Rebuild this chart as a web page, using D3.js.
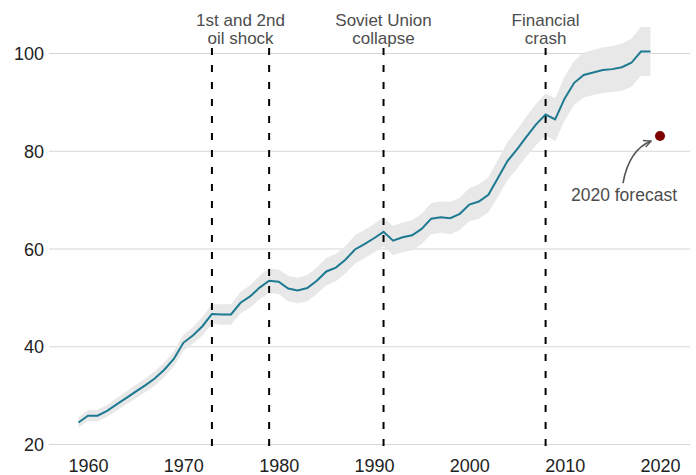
<!DOCTYPE html>
<html>
<head>
<meta charset="utf-8">
<script src="https://cdn.jsdelivr.net/npm/d3@7"></script>
<style>
  body { margin: 0; background: #fff; }
  svg { display: block; font-family: "Liberation Sans", Arial, sans-serif; }
</style>
</head>
<body>
<svg width="696" height="475"></svg>
<script>
// yearly index, 1959 - 2019, with its uncertainty band
var startYear = 1959;
var values = [
  24.4, 25.8, 25.8, 26.8, 28.1, 29.4, 30.7, 32.0, 33.4, 35.2,
  37.4, 40.7, 42.2, 44.1, 46.6, 46.5, 46.5, 48.9, 50.2, 52.0,
  53.4, 53.2, 51.8, 51.4, 51.9, 53.4, 55.3, 56.1, 57.7, 59.8,
  60.9, 62.1, 63.4, 61.6, 62.3, 62.7, 64.0, 66.1, 66.4, 66.2,
  67.1, 69.0, 69.6, 71.0, 74.4, 77.9, 80.3, 82.9, 85.4, 87.4,
  86.4, 90.7, 93.9, 95.5, 96.0, 96.5, 96.7, 97.1, 98.0, 100.3,
  100.3
];
// half width of the grey band, same years
var spread = [
  1.1, 1.1, 1.2, 1.2, 1.3, 1.3, 1.4, 1.4, 1.5, 1.5,
  1.6, 1.6, 1.7, 1.9, 2.0, 2.1, 2.1, 2.2, 2.3, 2.4,
  2.5, 2.5, 2.6, 2.6, 2.7, 2.7, 2.8, 2.8, 2.8, 2.9,
  2.9, 2.9, 3.0, 3.0, 3.0, 3.1, 3.1, 3.2, 3.2, 3.3,
  3.3, 3.4, 3.5, 3.6, 3.8, 3.9, 4.0, 4.1, 4.2, 4.3,
  4.4, 4.5, 4.5, 4.6, 4.6, 4.7, 4.7, 4.8, 4.9, 5.0,
  5.0
];
var forecastYear = 2020, forecastValue = 83;

var eventYears = [1973, 1979, 1991, 2008];
var eventLabels = [
  { year: 1976, lines: ["1st and 2nd", "oil shock"] },
  { year: 1991, lines: ["Soviet Union", "collapse"] },
  { year: 2008, lines: ["Financial", "crash"] }
];
var xTicks = [1960, 1970, 1980, 1990, 2000, 2010, 2020];
var yTicks = [20, 40, 60, 80, 100];

var data = values.map(function(v, i) {
  return { year: startYear + i, value: v, lo: v - spread[i], hi: v + spread[i] };
});

var svg = d3.select("svg"),
    x = d3.scaleLinear().domain([1960, 2020]).range([88, 660]),
    y = d3.scaleLinear().domain([20, 100]).range([444, 53]),
    gridLeft = 49, gridRight = 690;

// horizontal grid + y labels
var yAxis = svg.append("g")
  .attr("transform", "translate(" + gridLeft + ",0)")
  .call(d3.axisLeft(y).tickValues(yTicks).tickSize(-(gridRight - gridLeft)).tickPadding(5));
yAxis.select(".domain").remove();
yAxis.selectAll("line").attr("stroke", "#d6d6d6").attr("stroke-width", 1.1);
yAxis.selectAll("text").attr("font-size", 18).attr("fill", "#222").attr("dy", "0.37em");

// x labels
var xAxis = svg.append("g")
  .attr("transform", "translate(0," + y(20) + ")")
  .call(d3.axisBottom(x).tickValues(xTicks).tickFormat(d3.format("d")).tickSize(0).tickPadding(15));
xAxis.select(".domain").remove();
xAxis.selectAll("text").attr("font-size", 18).attr("fill", "#222");

// uncertainty band
svg.append("path")
  .datum(data)
  .attr("fill", "#e8e8e8")
  .attr("d", d3.area()
    .x(function(d) { return x(d.year); })
    .y0(function(d) { return y(d.lo); })
    .y1(function(d) { return y(d.hi); }));

// event markers
svg.selectAll(".event")
  .data(eventYears)
  .enter().append("line")
  .attr("class", "event")
  .attr("x1", function(d) { return x(d); })
  .attr("x2", function(d) { return x(d); })
  .attr("y1", 48)
  .attr("y2", 452)
  .attr("stroke", "#000")
  .attr("stroke-width", 2)
  .attr("stroke-dasharray", "7,10");

// main line
svg.append("path")
  .datum(data)
  .attr("fill", "none")
  .attr("stroke", "#1d7a91")
  .attr("stroke-width", 2)
  .attr("d", d3.line()
    .x(function(d) { return x(d.year); })
    .y(function(d) { return y(d.value); }));

// event labels (one text per line, tight spacing like the original)
eventLabels.forEach(function(e) {
  e.lines.forEach(function(l, i) {
    svg.append("text")
      .attr("x", x(e.year))
      .attr("y", 26 + i * 18)
      .attr("text-anchor", "middle")
      .attr("font-size", 17)
      .attr("fill", "#4d4d4d")
      .text(l);
  });
});

// forecast point + arrow
var fx = x(forecastYear), fy = y(forecastValue);
svg.append("defs").append("marker")
  .attr("id", "head")
  .attr("viewBox", "0 0 10 10")
  .attr("refX", 9).attr("refY", 5)
  .attr("markerWidth", 9).attr("markerHeight", 9)
  .attr("markerUnits", "userSpaceOnUse")
  .attr("orient", "auto")
  .append("path")
  .attr("d", "M1,1 L9,5 L1,9")
  .attr("fill", "none")
  .attr("stroke", "#555")
  .attr("stroke-width", 1.6);

svg.append("path")
  .attr("d", "M" + (fx - 37) + "," + (fy + 47) +
             " Q" + (fx - 31) + "," + (fy + 14) + " " + (fx - 9) + "," + (fy + 5))
  .attr("fill", "none")
  .attr("stroke", "#555")
  .attr("stroke-width", 1.6)
  .attr("marker-end", "url(#head)");

svg.append("circle")
  .attr("cx", fx).attr("cy", fy).attr("r", 5)
  .attr("fill", "#7f0000");

svg.append("text")
  .attr("x", fx - 36).attr("y", fy + 65)
  .attr("text-anchor", "middle")
  .attr("font-size", 17.5)
  .attr("fill", "#4d4d4d")
  .text(forecastYear + " forecast");
</script>
</body>
</html>
